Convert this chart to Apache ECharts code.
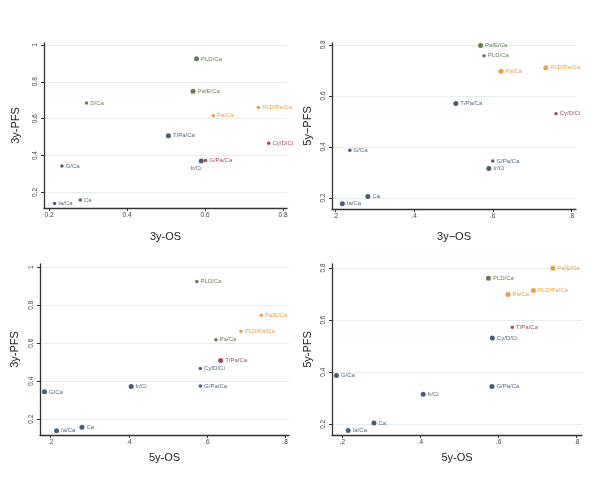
<!DOCTYPE html>
<html lang="en">
<head>
    <meta charset="UTF-8">
    <title>OS vs PFS</title>
    <style>
        html, body { margin: 0; padding: 0; background: #fff; }
        #main { width: 600px; height: 481px; }
    </style>
</head>
<body>
<div id="main"></div>
<script src="https://cdn.jsdelivr.net/npm/echarts@6/dist/echarts.min.js"></script>
<script>
    /* colours of the regimen groups */
    var groupColor = { n: '#1b3556', g: '#3f5d22', o: '#e8861c', m: '#8c1d34' };

    /* panel A: 3y-OS vs 3y-PFS */
    var namesA = ['PLD/Ca', 'Pa/E/Ca', 'D/Ca', 'PLD/Pa/Ca', 'Pa/Ca', 'T/Pa/Ca', 'Cy/D/Ci', 'Ir/Ci', 'G/Pa/Ca', 'G/Ca', 'Ca', 'Ia/Ca'];
    var osA = [0.578, 0.569, 0.296, 0.737, 0.621, 0.506, 0.763, 0.590, 0.601, 0.233, 0.280, 0.214];
    var pfsA = [0.924, 0.748, 0.685, 0.661, 0.616, 0.508, 0.467, 0.371, 0.373, 0.344, 0.159, 0.141];
    var grpA = ['g', 'g', 'g', 'o', 'o', 'n', 'm', 'n', 'm', 'n', 'n', 'n'];
    var bigA = [1, 1, 0, 0, 0, 1, 0, 1, 0, 0, 0, 0];

    /* panel B: 3y-OS vs 5y-PFS */
    var namesB = ['Pa/E/Ca', 'PLD/Ca', 'PLD/Pa/Ca', 'Pa/Ca', 'T/Pa/Ca', 'Cy/D/Ci', 'G/Ca', 'G/Pa/Ca', 'Ir/Ci', 'Ca', 'Ia/Ca'];
    var osB = [0.569, 0.578, 0.735, 0.621, 0.506, 0.761, 0.236, 0.600, 0.590, 0.282, 0.217];
    var pfsB = [0.797, 0.757, 0.710, 0.696, 0.570, 0.530, 0.387, 0.345, 0.316, 0.206, 0.178];
    var grpB = ['g', 'g', 'o', 'o', 'n', 'm', 'n', 'n', 'n', 'n', 'n'];
    var bigB = [1, 0, 1, 1, 1, 0, 0, 0, 1, 1, 1];

    /* panel C: 5y-OS vs 3y-PFS */
    var namesC = ['PLD/Ca', 'Pa/E/Ca', 'PLD/Pa/Ca', 'Pa/Ca', 'T/Pa/Ca', 'Cy/D/Ci', 'G/Pa/Ca', 'Ir/Ci', 'G/Ca', 'Ca', 'Ia/Ca'];
    var osC = [0.574, 0.739, 0.687, 0.623, 0.635, 0.583, 0.583, 0.406, 0.184, 0.280, 0.215];
    var pfsC = [0.925, 0.747, 0.663, 0.618, 0.509, 0.467, 0.375, 0.372, 0.344, 0.158, 0.140];
    var grpC = ['g', 'o', 'o', 'g', 'm', 'n', 'n', 'n', 'n', 'n', 'n'];
    var bigC = [0, 0, 0, 0, 1, 0, 0, 1, 1, 1, 1];

    /* panel D: 5y-OS vs 5y-PFS */
    var namesD = ['Pa/E/Ca', 'PLD/Ca', 'PLD/Pa/Ca', 'Pa/Ca', 'T/Pa/Ca', 'Cy/D/Ci', 'G/Ca', 'G/Pa/Ca', 'Ir/Ci', 'Ca', 'Ia/Ca'];
    var osD = [0.739, 0.574, 0.689, 0.624, 0.635, 0.584, 0.185, 0.583, 0.407, 0.281, 0.215];
    var pfsD = [0.799, 0.760, 0.713, 0.698, 0.572, 0.531, 0.387, 0.345, 0.315, 0.205, 0.176];
    var grpD = ['o', 'g', 'o', 'o', 'm', 'n', 'n', 'n', 'n', 'n', 'n'];
    var bigD = [1, 1, 1, 1, 0, 1, 1, 1, 1, 1, 1];

    /* tick labels */
    var xTicks = [0.2, 0.4, 0.6, 0.8];
    var yTicks3 = [0.2, 0.4, 0.6, 0.8, 1];
    var yTicks5 = [0.2, 0.4, 0.6, 0.8];

    var FONT = 'Liberation Sans';
    var chart = echarts.init(document.getElementById('main'));

    function fmtFull(v) { return v === 1 ? '1' : v.toFixed(1); }
    function fmtShort(v) { return v.toFixed(1).replace(/^0/, ''); }

    function xAxisOf(idx, name, min, max, fmt, gap) {
        return {
            type: 'value', gridIndex: idx, name: name, nameLocation: 'middle', nameGap: gap,
            nameTextStyle: { fontFamily: FONT, fontSize: 11, color: '#222' },
            min: min, max: max,
            axisLine: { show: true, onZero: false, lineStyle: { color: '#333', width: 1.3 } },
            axisTick: { show: true, length: 3, customValues: xTicks, lineStyle: { color: '#333' } },
            axisLabel: { customValues: xTicks, formatter: fmt, margin: 4, fontFamily: FONT, fontSize: 6.5, color: '#444' },
            splitLine: { show: false }
        };
    }

    function yAxisOf(idx, name, min, max, ticks, gap) {
        return {
            type: 'value', gridIndex: idx, name: name, nameLocation: 'middle', nameGap: gap,
            nameTextStyle: { fontFamily: FONT, fontSize: 11, color: '#222' },
            min: min, max: max,
            axisLine: { show: true, onZero: false, lineStyle: { color: '#333', width: 1.3 } },
            axisTick: { show: true, length: 3, customValues: ticks, lineStyle: { color: '#333' } },
            axisLabel: { customValues: ticks, formatter: fmtFull, rotate: 90, margin: 5, fontFamily: FONT, fontSize: 6.5, color: '#444' },
            splitLine: { show: true, lineStyle: { color: '#e6edf1', width: 1 } }
        };
    }

    function seriesOf(idx, names, xs, ys, grp, big, special) {
        var data = names.map(function (n, i) {
            var c = groupColor[grp[i]];
            var item = {
                name: n,
                value: [xs[i], ys[i]],
                symbolSize: big[i] ? 5 : 3.5,
                itemStyle: { color: c },
                label: { color: c }
            };
            if (special && special[n]) item.label = Object.assign(item.label, special[n]);
            return item;
        });
        return {
            type: 'scatter', xAxisIndex: idx, yAxisIndex: idx,
            symbol: 'circle',
            label: {
                show: true, position: 'right', distance: 2,
                formatter: '{b}', fontFamily: FONT, fontSize: 6
            },
            data: data
        };
    }

    var option = {
        animation: false,
        grid: [
            { left: 44, top: 43, width: 243, height: 165 },
            { left: 332, top: 43, width: 244, height: 166 },
            { left: 40, top: 264, width: 249, height: 171 },
            { left: 332, top: 264, width: 250, height: 171 }
        ],
        xAxis: [
            xAxisOf(0, '3y-OS', 0.187, 0.81, fmtFull, 23),
            xAxisOf(1, '3y\u2212OS', 0.1906, 0.812, fmtShort, 22),
            xAxisOf(2, '5y-OS', 0.1726, 0.81, fmtShort, 17),
            xAxisOf(3, '5y-OS', 0.1736, 0.8136, fmtShort, 17)
        ],
        yAxis: [
            yAxisOf(0, '3y-PFS', 0.116, 1.01, yTicks3, 23),
            yAxisOf(1, '5y\u2212PFS', 0.157, 0.807, yTicks5, 19),
            yAxisOf(2, '3y-PFS', 0.117, 1.017, yTicks3, 20),
            yAxisOf(3, '5y-PFS', 0.159, 0.815, yTicks5, 19)
        ],
        series: [
            seriesOf(0, namesA, osA, pfsA, grpA, bigA, { 'Ir/Ci': { position: 'bottom', offset: [-5, 0] } }),
            seriesOf(1, namesB, osB, pfsB, grpB, bigB),
            seriesOf(2, namesC, osC, pfsC, grpC, bigC),
            seriesOf(3, namesD, osD, pfsD, grpD, bigD)
        ]
    };
    chart.setOption(option);
</script>
</body>
</html>
